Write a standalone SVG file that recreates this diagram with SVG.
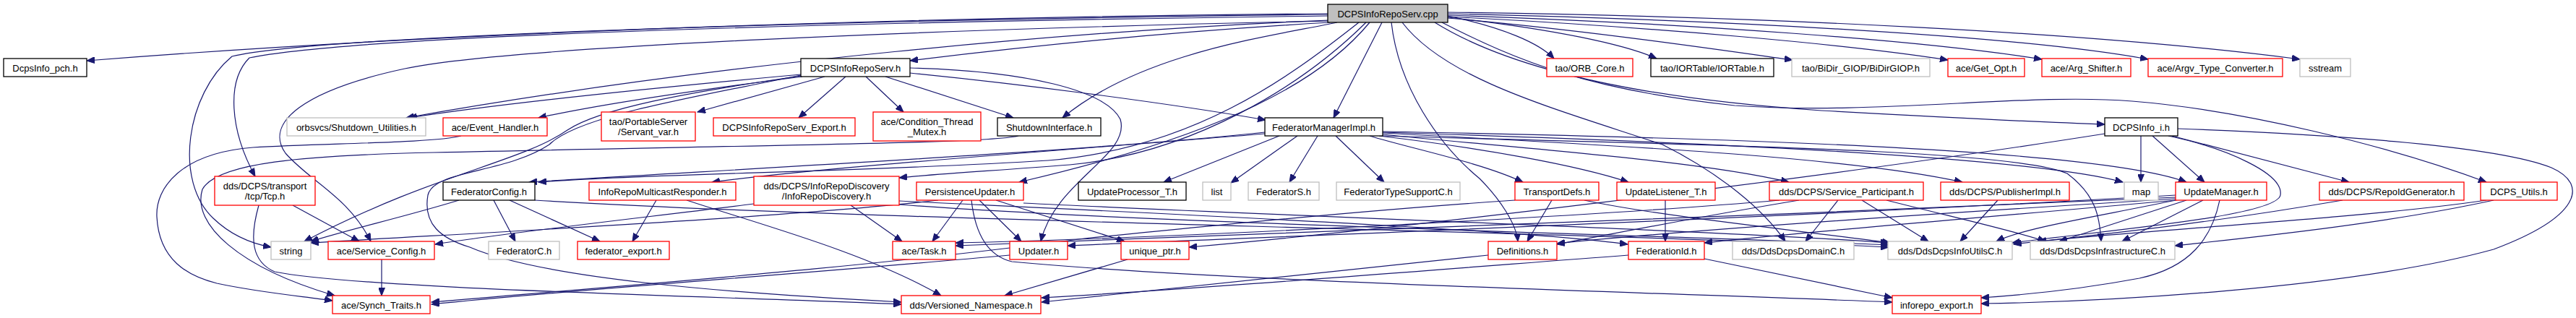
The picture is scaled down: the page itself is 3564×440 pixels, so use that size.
<svg xmlns="http://www.w3.org/2000/svg" width="3564" height="440" viewBox="0 0 3564 440">
<style>
.node rect{fill:#fff;stroke-width:1.3}
.blk rect{stroke:#000}
.red rect{stroke:#ff0000}
.gry rect{stroke:#bfbfbf}
.root rect{fill:#bfbfbf;stroke:#000}
.node text{font-family:"Liberation Sans",Arial,Helvetica,sans-serif;font-size:13px;fill:#000;text-anchor:middle}
#edges path{fill:none;stroke:#191970;stroke-width:1.2;marker-end:url(#ah)}
</style>
<defs>
<marker id="ah" markerUnits="userSpaceOnUse" markerWidth="12" markerHeight="9" refX="11" refY="4.5" orient="auto"><path d="M0,0 L11,4.5 L0,9 z" fill="#191970" stroke="#191970" stroke-width="1"/></marker>
</defs>
<rect width="3564" height="440" fill="#fff"/>
<g id="edges">
<path d="M1837,19 C1400,22 700,38 120,84"/>
<path d="M1840,31 C1600,45 1420,64 1259,84"/>
<path d="M1838,28 C1500,42 1000,85 562,163"/>
<path d="M1837,22 C1200,30 500,48 345,80 C313,112 318,180 353,244"/>
<path d="M1837,20 C1200,27 450,48 321,78 C258,130 240,250 295,302 C320,326 348,337 375,342"/>
<path d="M1840,29 C1300,40 700,65 560,95 C420,125 365,170 395,212 C430,252 482,272 513,334"/>
<path d="M1850,31 C1760,50 1580,72 1470,163"/>
<path d="M1912,31 L1845,163"/>
<path d="M1880,31 C1780,110 1650,205 1450,222 C1200,238 900,240 745,252"/>
<path d="M1890,31 C1800,120 1650,212 1480,228 C1380,236 1300,240 1244,246"/>
<path d="M1895,31 C1830,110 1700,185 1410,252"/>
<path d="M2003,22 C2080,38 2130,60 2150,81"/>
<path d="M2003,24 C2150,40 2250,62 2292,81"/>
<path d="M2003,25 C2200,42 2400,72 2480,83"/>
<path d="M2003,23 C2300,38 2560,62 2695,83"/>
<path d="M2003,21 C2350,33 2660,56 2825,82"/>
<path d="M2003,19 C2400,28 2800,50 2972,82"/>
<path d="M2003,17 C2450,23 2900,45 3182,82"/>
<path d="M1985,31 C2080,90 2250,135 2520,153 C2700,163 2850,170 2912,172"/>
<path d="M1995,31 C2100,85 2200,125 2400,146 C2600,160 2800,128 2950,140 C3100,152 3300,200 3440,252"/>
<path d="M1925,31 C1935,120 1990,200 2047,247 C2075,275 2098,310 2100,334"/>
<path d="M1940,31 C2000,110 2150,150 2300,200 C2380,240 2440,290 2470,334"/>
<path d="M1108,103 C900,122 700,142 566,163"/>
<path d="M1110,106 C1000,120 850,140 745,163"/>
<path d="M1141,106 L965,155"/>
<path d="M1170,106 L1105,163"/>
<path d="M1198,106 L1250,155"/>
<path d="M1225,106 L1402,163"/>
<path d="M1259,101 C1400,115 1600,140 1751,166"/>
<path d="M1259,94 C1420,98 1530,125 1550,165 C1565,215 1460,250 1440,334"/>
<path d="M1108,105 C950,128 830,150 785,180 C720,225 600,240 421,334"/>
<path d="M1108,104 C960,135 800,160 760,200 C700,240 600,235 592,270 C585,310 610,330 650,342 C750,385 1000,405 1247,418"/>
<path d="M1409,188 C1370,198 1100,200 600,211 C420,215 300,225 280,262 C265,310 330,370 463,409"/>
<path d="M638,188 C600,198 450,198 350,204 C250,212 215,260 217,300 C220,360 260,382 300,392 C360,405 420,410 460,416"/>
<path d="M528,359 L528,409"/>
<path d="M405,284 L497,334"/>
<path d="M358,284 C345,330 348,362 380,376 C500,400 1000,410 1247,421"/>
<path d="M1770,188 L1610,252"/>
<path d="M1795,188 L1703,253"/>
<path d="M1823,188 L1784,252"/>
<path d="M1848,188 L1915,252"/>
<path d="M1895,188 C1950,205 2050,225 2107,252"/>
<path d="M1908,188 C2050,205 2180,228 2253,252"/>
<path d="M1913,186 C2100,205 2350,222 2475,252"/>
<path d="M1913,184 C2200,200 2550,215 2715,252"/>
<path d="M1913,183 C2300,195 2800,215 2937,252"/>
<path d="M1913,182 C2350,190 2900,205 3025,252"/>
<path d="M1750,183 C1500,210 1000,235 732,252"/>
<path d="M1750,185 C1450,210 1150,230 985,252"/>
<path d="M1913,188 C2300,200 2780,205 2860,240 C2900,270 2905,300 2907,334"/>
<path d="M1244,278 C1700,300 2100,318 2252,338"/>
<path d="M1332,277 L1290,334"/>
<path d="M1355,277 L1413,334"/>
<path d="M1378,277 L1556,334"/>
<path d="M1344,277 C1350,330 1370,355 1400,362 C1700,390 2300,405 2618,418"/>
<path d="M1298,277 C1100,300 700,320 430,336"/>
<path d="M1416,281 C1800,300 2400,320 2613,336"/>
<path d="M1177,284 L1248,334"/>
<path d="M1043,282 C900,300 700,322 602,338"/>
<path d="M1244,283 C1600,310 2300,325 2613,339"/>
<path d="M908,277 L875,334"/>
<path d="M950,277 C1050,310 1200,350 1302,409"/>
<path d="M683,277 L713,334"/>
<path d="M705,277 L830,334"/>
<path d="M635,277 C560,300 480,318 430,334"/>
<path d="M740,277 C1200,305 2100,318 2613,342"/>
<path d="M3071,277 C3060,330 3030,370 2960,385 C2880,400 2800,408 2741,412"/>
<path d="M3048,277 L2936,334"/>
<path d="M3025,277 L2849,334"/>
<path d="M3015,276 C2900,300 2800,315 2762,334"/>
<path d="M3010,270 C2500,300 1700,330 1477,340"/>
<path d="M3010,273 C2400,300 1600,330 1322,340"/>
<path d="M3010,275 C2600,300 2300,322 2154,337"/>
<path d="M3010,277 C2700,305 2450,325 2358,336"/>
<path d="M2962,188 L2962,252"/>
<path d="M2978,188 L3050,252"/>
<path d="M3005,188 L3250,252"/>
<path d="M3013,178 C3200,185 3450,200 3530,232 C3582,255 3570,300 3450,345 C3250,400 2900,418 2741,420"/>
<path d="M2912,185 C2500,250 1900,320 1645,342"/>
<path d="M3000,188 C3080,205 3160,240 3155,270 C3150,300 2900,320 2784,336"/>
<path d="M3450,277 C3300,310 3100,330 3009,340"/>
<path d="M3440,277 C3250,305 2900,322 2786,338"/>
<path d="M3241,277 C3050,310 2900,325 2820,334"/>
<path d="M2543,277 L2498,334"/>
<path d="M2576,277 L2668,334"/>
<path d="M2489,277 C2350,300 2250,320 2154,338"/>
<path d="M2462,277 C2200,300 1600,330 1322,336"/>
<path d="M2610,277 C2700,300 2790,320 2830,334"/>
<path d="M2764,277 L2712,334"/>
<path d="M2304,277 L2304,334"/>
<path d="M2147,277 L2113,334"/>
<path d="M2096,277 C1900,290 1700,310 1500,330 C1200,370 900,392 597,418"/>
<path d="M2192,277 C2300,300 2500,320 2615,336"/>
<path d="M2059,353 C1800,380 1600,400 1441,418"/>
<path d="M2253,353 C1900,380 1650,400 1441,412"/>
<path d="M2358,358 L2618,412"/>
<path d="M1560,359 L1390,409"/>
<path d="M1397,353 C1100,380 800,400 597,421"/>
</g>
<g id="n_root" class="node root"><rect x="1837" y="6" width="166" height="25"/><text x="1920" y="23.5">DCPSInfoRepoServ.cpp</text></g>
<g id="n_pch" class="node blk"><rect x="5" y="81" width="115" height="25"/><text x="62.5" y="98.5">DcpsInfo_pch.h</text></g>
<g id="n_drs" class="node blk"><rect x="1108" y="81" width="151" height="25"/><text x="1183.5" y="98.5">DCPSInfoRepoServ.h</text></g>
<g id="n_orb" class="node red"><rect x="2140" y="81" width="119" height="25"/><text x="2199.5" y="98.5">tao/ORB_Core.h</text></g>
<g id="n_ior" class="node blk"><rect x="2284" y="81" width="170" height="25"/><text x="2369" y="98.5">tao/IORTable/IORTable.h</text></g>
<g id="n_bidir" class="node gry"><rect x="2479" y="81" width="191" height="25"/><text x="2574.5" y="98.5">tao/BiDir_GIOP/BiDirGIOP.h</text></g>
<g id="n_getopt" class="node red"><rect x="2695" y="81" width="106" height="25"/><text x="2748" y="98.5">ace/Get_Opt.h</text></g>
<g id="n_argsh" class="node red"><rect x="2825" y="81" width="123" height="25"/><text x="2886.5" y="98.5">ace/Arg_Shifter.h</text></g>
<g id="n_argv" class="node red"><rect x="2972" y="81" width="186" height="25"/><text x="3065" y="98.5">ace/Argv_Type_Converter.h</text></g>
<g id="n_sstream" class="node gry"><rect x="3182" y="81" width="70" height="25"/><text x="3217" y="98.5">sstream</text></g>
<g id="n_su" class="node gry"><rect x="397" y="163" width="192" height="25"/><text x="493" y="180.5">orbsvcs/Shutdown_Utilities.h</text></g>
<g id="n_eh" class="node red"><rect x="613" y="163" width="144" height="25"/><text x="685" y="180.5">ace/Event_Handler.h</text></g>
<g id="n_sv" class="node red"><rect x="832" y="155" width="130" height="40"/><text x="897" y="172.5">tao/PortableServer</text><text x="897" y="186.5">/Servant_var.h</text></g>
<g id="n_exp" class="node red"><rect x="987" y="163" width="196" height="25"/><text x="1085" y="180.5">DCPSInfoRepoServ_Export.h</text></g>
<g id="n_ctm" class="node red"><rect x="1208" y="155" width="149" height="40"/><text x="1282.5" y="172.5">ace/Condition_Thread</text><text x="1282.5" y="186.5">_Mutex.h</text></g>
<g id="n_si" class="node blk"><rect x="1380" y="163" width="143" height="25"/><text x="1451.5" y="180.5">ShutdownInterface.h</text></g>
<g id="n_fmi" class="node blk"><rect x="1750" y="163" width="163" height="25"/><text x="1831.5" y="180.5">FederatorManagerImpl.h</text></g>
<g id="n_di" class="node blk"><rect x="2912" y="163" width="101" height="25"/><text x="2962.5" y="180.5">DCPSInfo_i.h</text></g>
<g id="n_tcp" class="node red"><rect x="297" y="244" width="139" height="40"/><text x="366.5" y="261.5">dds/DCPS/transport</text><text x="366.5" y="275.5">/tcp/Tcp.h</text></g>
<g id="n_fc" class="node blk"><rect x="613" y="252" width="127" height="25"/><text x="676.5" y="269.5">FederatorConfig.h</text></g>
<g id="n_irmr" class="node red"><rect x="815" y="252" width="203" height="25"/><text x="916.5" y="269.5">InfoRepoMulticastResponder.h</text></g>
<g id="n_ird" class="node red"><rect x="1043" y="244" width="201" height="40"/><text x="1143.5" y="261.5">dds/DCPS/InfoRepoDiscovery</text><text x="1143.5" y="275.5">/InfoRepoDiscovery.h</text></g>
<g id="n_pu" class="node red"><rect x="1268" y="252" width="148" height="25"/><text x="1342" y="269.5">PersistenceUpdater.h</text></g>
<g id="n_upt" class="node blk"><rect x="1492" y="252" width="149" height="25"/><text x="1566.5" y="269.5">UpdateProcessor_T.h</text></g>
<g id="n_list" class="node gry"><rect x="1664" y="252" width="39" height="25"/><text x="1683.5" y="269.5">list</text></g>
<g id="n_fs" class="node gry"><rect x="1727" y="252" width="98" height="25"/><text x="1776" y="269.5">FederatorS.h</text></g>
<g id="n_fts" class="node gry"><rect x="1849" y="252" width="171" height="25"/><text x="1934.5" y="269.5">FederatorTypeSupportC.h</text></g>
<g id="n_td" class="node red"><rect x="2096" y="252" width="116" height="25"/><text x="2154" y="269.5">TransportDefs.h</text></g>
<g id="n_ult" class="node red"><rect x="2237" y="252" width="136" height="25"/><text x="2305" y="269.5">UpdateListener_T.h</text></g>
<g id="n_sp" class="node red"><rect x="2448" y="252" width="213" height="25"/><text x="2554.5" y="269.5">dds/DCPS/Service_Participant.h</text></g>
<g id="n_pi" class="node red"><rect x="2685" y="252" width="178" height="25"/><text x="2774" y="269.5">dds/DCPS/PublisherImpl.h</text></g>
<g id="n_map" class="node gry"><rect x="2939" y="252" width="47" height="25"/><text x="2962.5" y="269.5">map</text></g>
<g id="n_um" class="node red"><rect x="3010" y="252" width="126" height="25"/><text x="3073" y="269.5">UpdateManager.h</text></g>
<g id="n_rig" class="node red"><rect x="3209" y="252" width="200" height="25"/><text x="3309" y="269.5">dds/DCPS/RepoIdGenerator.h</text></g>
<g id="n_du" class="node red"><rect x="3432" y="252" width="106" height="25"/><text x="3485" y="269.5">DCPS_Utils.h</text></g>
<g id="n_str" class="node gry"><rect x="375" y="334" width="55" height="25"/><text x="402.5" y="351.5">string</text></g>
<g id="n_sc" class="node red"><rect x="454" y="334" width="147" height="25"/><text x="527.5" y="351.5">ace/Service_Config.h</text></g>
<g id="n_fcc" class="node gry"><rect x="676" y="334" width="98" height="25"/><text x="725" y="351.5">FederatorC.h</text></g>
<g id="n_fe" class="node red"><rect x="799" y="334" width="127" height="25"/><text x="862.5" y="351.5">federator_export.h</text></g>
<g id="n_task" class="node red"><rect x="1235" y="334" width="87" height="25"/><text x="1278.5" y="351.5">ace/Task.h</text></g>
<g id="n_upd" class="node red"><rect x="1397" y="334" width="80" height="25"/><text x="1437" y="351.5">Updater.h</text></g>
<g id="n_up" class="node red"><rect x="1551" y="334" width="94" height="25"/><text x="1598" y="351.5">unique_ptr.h</text></g>
<g id="n_def" class="node red"><rect x="2059" y="334" width="95" height="25"/><text x="2106.5" y="351.5">Definitions.h</text></g>
<g id="n_fid" class="node red"><rect x="2253" y="334" width="105" height="25"/><text x="2305.5" y="351.5">FederationId.h</text></g>
<g id="n_dom" class="node gry"><rect x="2397" y="334" width="168" height="25"/><text x="2481" y="351.5">dds/DdsDcpsDomainC.h</text></g>
<g id="n_iu" class="node gry"><rect x="2612" y="334" width="172" height="25"/><text x="2698" y="351.5">dds/DdsDcpsInfoUtilsC.h</text></g>
<g id="n_inf" class="node gry"><rect x="2809" y="334" width="200" height="25"/><text x="2909" y="351.5">dds/DdsDcpsInfrastructureC.h</text></g>
<g id="n_st" class="node red"><rect x="460" y="409" width="135" height="25"/><text x="527.5" y="426.5">ace/Synch_Traits.h</text></g>
<g id="n_vn" class="node red"><rect x="1247" y="409" width="193" height="25"/><text x="1343.5" y="426.5">dds/Versioned_Namespace.h</text></g>
<g id="n_ie" class="node red"><rect x="2618" y="409" width="123" height="25"/><text x="2679.5" y="426.5">inforepo_export.h</text></g>
</svg>
